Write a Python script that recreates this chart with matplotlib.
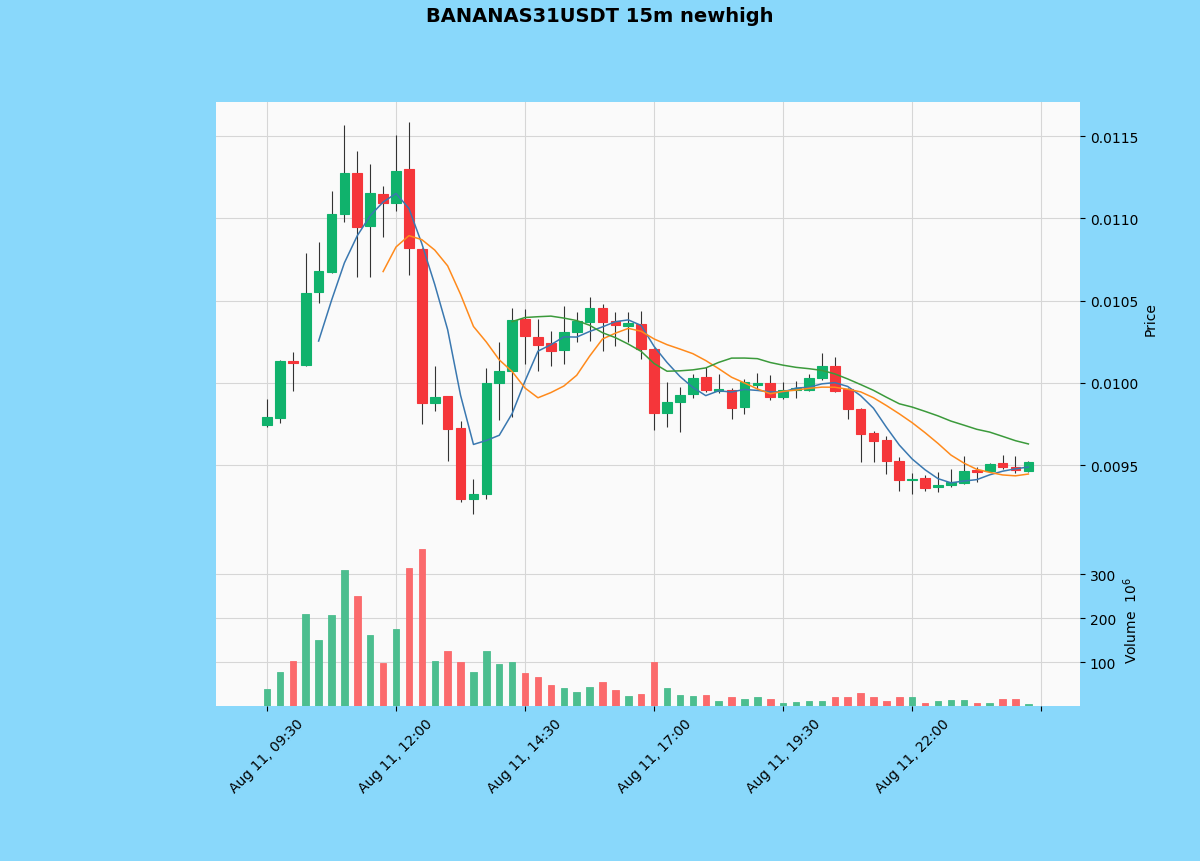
import numpy as np
import pandas as pd
import matplotlib
matplotlib.use("Agg")
import matplotlib.pyplot as plt

title = "BANANAS31USDT 15m newhigh"

opens = [0.009743, 0.009786, 0.010132, 0.010108, 0.010552, 0.010673, 0.011026, 0.011275, 0.010953, 0.011147,
         0.011093, 0.011299, 0.010813, 0.009877, 0.009919, 0.009725, 0.009293, 0.009324, 0.009998, 0.010071,
         0.010388, 0.010278, 0.010242, 0.010199, 0.010309, 0.010369, 0.010454, 0.010375, 0.010345, 0.010357,
         0.010205, 0.009816, 0.009883, 0.009932, 0.010035, 0.009950, 0.009956, 0.009853, 0.009986, 0.009998,
         0.009913, 0.009956, 0.009956, 0.010029, 0.010102, 0.009962, 0.009840, 0.009695, 0.009652, 0.009524,
         0.009409, 0.009421, 0.009366, 0.009378, 0.009391, 0.009470, 0.009464, 0.009512, 0.009488, 0.009464]
highs = [0.009901, 0.010138, 0.010187, 0.010789, 0.010856, 0.011166, 0.011567, 0.011409, 0.011330, 0.011196,
         0.011506, 0.011585, 0.010819, 0.010102, 0.009919, 0.009767, 0.009415, 0.010090, 0.010248, 0.010454,
         0.010448, 0.010388, 0.010315, 0.010467, 0.010430, 0.010521, 0.010479, 0.010430, 0.010430, 0.010436,
         0.010211, 0.010005, 0.009974, 0.010053, 0.010096, 0.010053, 0.009968, 0.010023, 0.010059, 0.010047,
         0.010005, 0.010011, 0.010053, 0.010181, 0.010157, 0.009968, 0.009847, 0.009707, 0.009676, 0.009549,
         0.009451, 0.009439, 0.009457, 0.009476, 0.009555, 0.009488, 0.009512, 0.009561, 0.009555, 0.009524]
lows = [0.009731, 0.009755, 0.009950, 0.010100, 0.010485, 0.010667, 0.010977, 0.010643, 0.010643, 0.010886,
        0.011044, 0.010655, 0.009749, 0.009828, 0.009524, 0.009275, 0.009202, 0.009293, 0.009774, 0.009792,
        0.010114, 0.010071, 0.010102, 0.010114, 0.010248, 0.010254, 0.010193, 0.010223, 0.010248, 0.010144,
        0.009713, 0.009731, 0.009701, 0.009907, 0.009944, 0.009938, 0.009780, 0.009810, 0.009962, 0.009895,
        0.009901, 0.009907, 0.009950, 0.010017, 0.009944, 0.009780, 0.009518, 0.009518, 0.009445, 0.009342,
        0.009324, 0.009342, 0.009336, 0.009366, 0.009384, 0.009397, 0.009457, 0.009476, 0.009451, 0.009457]
closes = [0.009792, 0.010132, 0.010120, 0.010546, 0.010679, 0.011026, 0.011275, 0.010947, 0.011153, 0.011093,
          0.011287, 0.010819, 0.009877, 0.009913, 0.009719, 0.009293, 0.009324, 0.009998, 0.010071, 0.010381,
          0.010284, 0.010229, 0.010193, 0.010309, 0.010375, 0.010454, 0.010369, 0.010351, 0.010363, 0.010205,
          0.009816, 0.009883, 0.009926, 0.010029, 0.009956, 0.009962, 0.009847, 0.010005, 0.009998, 0.009913,
          0.009956, 0.009968, 0.010029, 0.010102, 0.009950, 0.009840, 0.009688, 0.009646, 0.009524, 0.009409,
          0.009415, 0.009360, 0.009378, 0.009397, 0.009464, 0.009457, 0.009506, 0.009488, 0.009470, 0.009518]
volumes_m = [39, 77, 103, 209, 149, 207, 308, 249, 161, 98,
             175, 314, 357, 102, 124, 100, 77, 124, 95, 101,
             75, 66, 47, 41, 32, 43, 55, 37, 23, 28,
             100, 41, 25, 23, 25, 11, 20, 16, 20, 16,
             6, 8, 12, 11, 21, 20, 30, 21, 12, 21,
             21, 7, 12, 14, 14, 7, 7, 16, 15, 5]
mav_windows = [5, 10, 20]
tick_positions = [0, 10, 20, 30, 40, 50, 60]
tick_labels = ["Aug 11, 09:30", "Aug 11, 12:00", "Aug 11, 14:30", "Aug 11, 17:00",
               "Aug 11, 19:30", "Aug 11, 22:00", ""]

UP = "#10b26c"
DOWN = "#f5363a"
VUP = "#4cbe8f"
VDOWN = "#fb6a6c"
WICK = "#333333"
FIG_BG = "#89d8fb"
AX_BG = "#fafafa"
GRID = "#d6d6d6"
MA_COLORS = ["#3a78b0", "#ff8a1c", "#3b9a3b"]

o = np.array(opens); h = np.array(highs); l = np.array(lows); c = np.array(closes)
v = np.array(volumes_m)
x = np.arange(len(c))
up = c >= o

fig = plt.figure(figsize=(12, 8.62), dpi=100, facecolor=FIG_BG)
axp = fig.add_axes([0.18, 0.3794, 0.72, 0.5011])
axv = fig.add_axes([0.18, 0.1798, 0.72, 0.1996], sharex=axp)

for ax in (axp, axv):
    ax.set_facecolor(AX_BG)
    ax.grid(True, color=GRID, linewidth=0.8)
    ax.set_axisbelow(True)
    for s in ax.spines.values():
        s.set_visible(False)
    ax.yaxis.tick_right()
    ax.yaxis.set_label_position("right")
    ax.tick_params(axis="both", labelsize=10, colors="black", length=3.5)

# wicks
axp.vlines(x, l, h, color=WICK, linewidth=0.8, zorder=2)
# bodies
bottoms = np.minimum(o, c)
heights = np.abs(c - o)
colors = [UP if u else DOWN for u in up]
axp.bar(x, heights, width=0.75, bottom=bottoms, color=colors, edgecolor=colors,
        linewidth=0.8, zorder=3)

# moving averages
cs = pd.Series(c)
for w, col in zip(mav_windows, MA_COLORS):
    axp.plot(x, cs.rolling(w).mean(), color=col, linewidth=1.1, zorder=4)

axp.set_ylim(0.009081, 0.011707)
axp.set_yticks([0.0095, 0.0100, 0.0105, 0.0110, 0.0115])
axp.set_yticklabels(["0.0095", "0.0100", "0.0105", "0.0110", "0.0115"])
axp.set_ylabel("Price", fontsize=10)
axp.tick_params(axis="x", labelbottom=False, length=0)

vcolors = [VUP if u else VDOWN for u in up]
axv.bar(x, v, width=0.5, color=vcolors, edgecolor=vcolors, linewidth=0.6, zorder=3)
axv.set_ylim(0, 391)
axv.set_yticks([100, 200, 300])
axv.set_ylabel("Volume  $10^{6}$", fontsize=10)

axv.set_xlim(-3.95, 63.0)
axv.set_xticks(tick_positions)
axv.set_xticklabels(tick_labels, rotation=45, ha="center")

fig.suptitle(title, fontsize=14, fontweight="bold", y=0.981, va="center")

fig.savefig("out.png", dpi=100, facecolor=FIG_BG)
